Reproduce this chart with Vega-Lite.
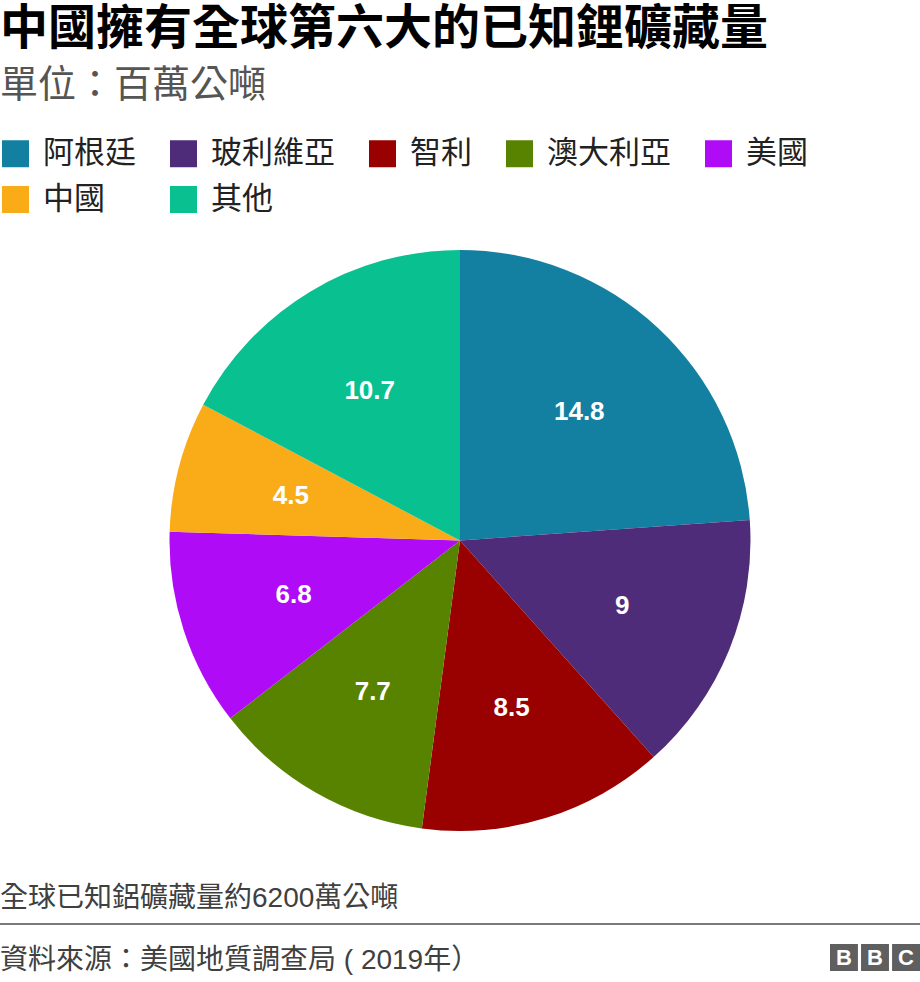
{
  "$schema": "https://vega.github.io/schema/vega-lite/v6.json",
  "padding": {"left": 0, "top": 6, "right": 0, "bottom": 0},
  "background": "white",
  "config": {
    "font": "Liberation Sans, Noto Sans CJK TC",
    "view": {"stroke": null}
  },
  "title": {
    "text": "中國擁有全球第六大的已知鋰礦藏量",
    "subtitle": "單位：百萬公噸",
    "anchor": "start",
    "font": "Noto Sans CJK TC",
    "fontSize": 48,
    "fontWeight": "bold",
    "color": "#000000",
    "subtitleFont": "Noto Sans CJK TC",
    "subtitleFontSize": 38,
    "subtitleColor": "#555555",
    "subtitlePadding": 13,
    "offset": 33
  },
  "spacing": 54,
  "vconcat": [
    {
      "width": 920,
      "height": 581,
      "data": {
        "values": [
          {"country": "阿根廷", "value": 14.8, "order": 1},
          {"country": "玻利維亞", "value": 9, "order": 2},
          {"country": "智利", "value": 8.5, "order": 3},
          {"country": "澳大利亞", "value": 7.7, "order": 4},
          {"country": "美國", "value": 6.8, "order": 5},
          {"country": "中國", "value": 4.5, "order": 6},
          {"country": "其他", "value": 10.7, "order": 7}
        ]
      },
      "encoding": {
        "theta": {"field": "value", "type": "quantitative", "stack": true},
        "order": {"field": "order", "type": "quantitative"}
      },
      "layer": [
        {
          "mark": {"type": "arc", "strokeWidth": 0},
          "encoding": {
            "color": {
              "field": "country",
              "type": "nominal",
              "scale": {
                "domain": ["阿根廷", "玻利維亞", "智利", "澳大利亞", "美國", "中國", "其他"],
                "range": ["#1380A1", "#4F2C7A", "#990000", "#588300", "#B00BF7", "#FAAB18", "#08C090"]
              },
              "legend": {
                "orient": "top",
                "columns": 5,
                "title": null,
                "symbolType": "square",
                "symbolSize": 729,
                "symbolStrokeWidth": 0,
                "symbolOpacity": 1,
                "labelFont": "Noto Sans CJK TC",
                "labelFontSize": 31,
                "labelColor": "#222222",
                "labelOffset": 12,
                "labelLimit": 300,
                "columnPadding": 32,
                "rowPadding": 14,
                "offset": 35,
                "padding": 0
              }
            }
          }
        },
        {
          "mark": {"type": "text", "radius": 175, "fontSize": 26, "fontWeight": "bold", "font": "Liberation Sans"},
          "encoding": {
            "detail": {"field": "country", "type": "nominal"},
            "color": {"value": "#ffffff"},
            "text": {"field": "value", "type": "quantitative"}
          }
        }
      ]
    },
    {
      "spacing": 19,
      "vconcat": [
        {
          "width": 920,
          "height": 2,
          "title": {
            "text": "全球已知鋁礦藏量約6200萬公噸",
            "orient": "top",
            "anchor": "start",
            "fontSize": 28,
            "fontWeight": "normal",
            "color": "#404040",
            "offset": 10
          },
          "data": {"values": [{"line": "divider"}]},
          "mark": {"type": "rect", "color": "#7a7a7a"},
          "encoding": {}
        },
        {
          "spacing": 30,
          "hconcat": [
            {
              "width": 800,
              "height": 1,
              "title": {
                "text": "資料來源：美國地質調查局 ( 2019年）",
                "orient": "bottom",
                "anchor": "start",
                "fontSize": 28,
                "fontWeight": "normal",
                "color": "#404040",
                "offset": 2
              },
              "data": {"values": [{"line": "source"}]},
              "mark": {"type": "rect", "opacity": 0},
              "encoding": {}
            },
            {
              "width": 90,
              "height": 27,
              "data": {
                "values": [
                  {"key": "1", "letter": "B"},
                  {"key": "2", "letter": "B"},
                  {"key": "3", "letter": "C"}
                ]
              },
              "encoding": {
                "x": {"field": "key", "type": "nominal", "scale": {"paddingInner": 0.1, "paddingOuter": 0}, "axis": null}
              },
              "layer": [
                {"mark": {"type": "rect", "color": "#5f5f5f"}},
                {
                  "mark": {"type": "text", "color": "#ffffff", "fontSize": 22, "fontWeight": "bold", "font": "Liberation Sans"},
                  "encoding": {"text": {"field": "letter", "type": "nominal"}}
                }
              ]
            }
          ]
        }
      ]
    }
  ]
}
